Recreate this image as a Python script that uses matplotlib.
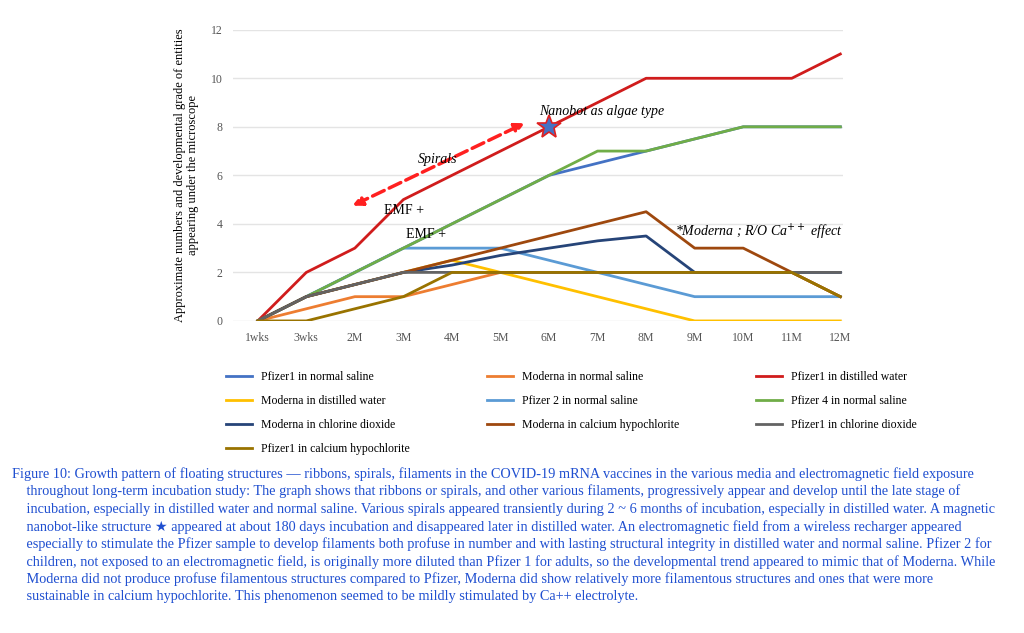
import matplotlib.pyplot as plt
import numpy as np

"""
Padrão de crescimento das estruturas flutuantes nas vacinas em vários meios.
"""

plt.rcParams['font.family'] = ['Liberation Serif', 'DejaVu Sans']

meses = ['1wks', '3wks', '2M', '3M', '4M', '5M', '6M', '7M', '8M', '9M', '10M', '11M', '12M']
x = np.arange(len(meses))

series = [
    ('Pfizer1 in normal saline', '#4472c4', [0, 1, 2, 3, 4, 5, 6, 6.5, 7, 7.5, 8, 8, 8]),
    ('Moderna in normal saline', '#ed7d31', [0, 0.5, 1, 1, 1.5, 2, 2, 2, 2, 2, 2, 2, 1]),
    ('Pfizer1 in distilled water', '#d01c1c', [0, 2, 3, 5, 6, 7, 8, 9, 10, 10, 10, 10, 11]),
    ('Moderna in distilled water', '#ffc000', [0, 1, 1.5, 2, 2.5, 2, 1.5, 1, 0.5, 0, 0, 0, 0]),
    ('Pfizer 2 in normal saline', '#5b9bd5', [0, 1, 2, 3, 3, 3, 2.5, 2, 1.5, 1, 1, 1, 1]),
    ('Pfizer 4 in normal saline', '#70ad47', [0, 1, 2, 3, 4, 5, 6, 7, 7, 7.5, 8, 8, 8]),
    ('Moderna in chlorine dioxide', '#264478', [0, 1, 1.5, 2, 2.3, 2.7, 3, 3.3, 3.5, 2, 2, 2, 2]),
    ('Moderna in calcium hypochlorite', '#9e480e', [0, 1, 1.5, 2, 2.5, 3, 3.5, 4, 4.5, 3, 3, 2, 1]),
    ('Pfizer1 in chlorine dioxide', '#636363', [0, 1, 1.5, 2, 2, 2, 2, 2, 2, 2, 2, 2, 2]),
    ('Pfizer1 in calcium hypochlorite', '#997300', [0, 0, 0.5, 1, 2, 2, 2, 2, 2, 2, 2, 2, 1]),
]

fig = plt.figure(figsize=(10.24, 6.33), dpi=100)
ax = fig.add_axes([0.228, 0.493, 0.595, 0.46])
linhas = []
for nome, cor, y in series:
    l, = ax.plot(x, y, color=cor, lw=2, label=nome)
    linhas.append(l)

ax.set_xlim(-0.5, 12.05)
ax.set_ylim(0, 12)
ax.set_yticks(np.arange(0, 13, 2))
ax.set_xticks(x, meses)
ax.grid(axis='y', color='#e4e4e4', lw=1)
ax.set_axisbelow(True)
for s in ax.spines.values():
    s.set_visible(False)
ax.tick_params(length=0, labelsize=8.5, colors='#555555', pad=8)
ax.set_ylabel('Approximate numbers and developmental grade of entities\nappearing under the microscope', fontsize=9, labelpad=8)

# anotações
ax.annotate('', xy=(5.55, 8.2), xytext=(1.9, 4.7),
            arrowprops=dict(arrowstyle='<|-|>', color='#ff2020', lw=2.5, ls='--', mutation_scale=14))
ax.text(3.3, 6.5, 'Spirals', style='italic', fontsize=10)
ax.text(2.6, 4.4, 'EMF +', fontsize=10)
ax.text(3.05, 3.4, 'EMF +', fontsize=10)
ax.text(5.8, 8.5, 'Nanobot as algae type', style='italic', fontsize=10)
ax.plot(6, 8, marker='*', ms=18, color='#4472c4', mec='#e02020', mew=1.2)
ax.text(8.6, 3.5, '*Moderna ; R/O Ca$^{++}$ effect', style='italic', fontsize=10)

# ordem por linha: reorganiza para preencher colunas
ordem = [0, 3, 6, 9, 1, 4, 7, 2, 5, 8]
fig.legend([linhas[i] for i in ordem], [series[i][0] for i in ordem],
           loc='upper left', bbox_to_anchor=(0.21, 0.43), ncol=3, frameon=False,
           fontsize=8.5, handlelength=2.2, columnspacing=6.5, labelspacing=1.0)

texto = ("Figure 10: Growth pattern of floating structures — ribbons, spirals, filaments in the COVID-19 mRNA vaccines in the various media and electromagnetic field exposure\n"
         "    throughout long-term incubation study: The graph shows that ribbons or spirals, and other various filaments, progressively appear and develop until the late stage of\n"
         "    incubation, especially in distilled water and normal saline. Various spirals appeared transiently during 2 ~ 6 months of incubation, especially in distilled water. A magnetic\n"
         "    nanobot-like structure \u2605 appeared at about 180 days incubation and disappeared later in distilled water. An electromagnetic field from a wireless recharger appeared\n"
         "    especially to stimulate the Pfizer sample to develop filaments both profuse in number and with lasting structural integrity in distilled water and normal saline. Pfizer 2 for\n"
         "    children, not exposed to an electromagnetic field, is originally more diluted than Pfizer 1 for adults, so the developmental trend appeared to mimic that of Moderna. While\n"
         "    Moderna did not produce profuse filamentous structures compared to Pfizer, Moderna did show relatively more filamentous structures and ones that were more\n"
         "    sustainable in calcium hypochlorite. This phenomenon seemed to be mildly stimulated by Ca++ electrolyte.")
fig.text(0.012, 0.262, texto, color='#1f4fd0', fontsize=10.3, va='top', linespacing=1.35)

plt.savefig('out.png')
